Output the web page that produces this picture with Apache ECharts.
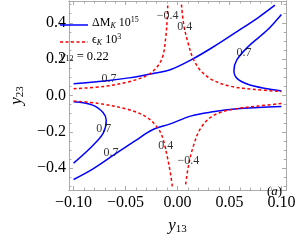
<!DOCTYPE html>
<html>
<head>
<meta charset="utf-8">
<script src="https://cdn.jsdelivr.net/npm/echarts@6/dist/echarts.min.js"></script>
<style>html,body{margin:0;padding:0;background:#fff}#c{width:298px;height:240px}</style>
</head>
<body>
<div id="c"></div>
<script>
// ---- tick values ----
const xMajorTicks = [-0.1, -0.05, 0, 0.05, 0.1];
const xMinorTicks = [-0.09,-0.08,-0.07,-0.06,-0.04,-0.03,-0.02,-0.01,0.01,0.02,0.03,0.04,0.06,0.07,0.08,0.09];
const yMajorTicks = [-0.4, -0.2, 0, 0.2, 0.4];
const yMinorTicks = [-0.5,-0.45,-0.35,-0.3,-0.25,-0.15,-0.1,-0.05,0.05,0.1,0.15,0.25,0.3,0.35,0.45,0.5];

// ---- Delta M_K 10^15 = 0.7 contours (blue) ----
const dmUpper = [[-0.1,0.064],[-0.07,0.080],[-0.0467,0.097],[-0.0245,0.120],[-0.007,0.142],[0.0134,0.197],[0.0339,0.2655],[0.0572,0.3515],[0.0777,0.429],[0.0937,0.497]];
const dmRight = [[0.1,0.446],[0.0864,0.360],[0.0689,0.274],[0.0572,0.197],[0.0543,0.137],[0.0572,0.094],[0.0689,0.059],[0.0864,0.037],[0.1,0.025]];
const dmLeft  = [[-0.1,-0.035],[-0.0817,-0.053],[-0.0715,-0.095],[-0.0686,-0.138],[-0.0715,-0.207],[-0.0817,-0.276],[-0.1,-0.372]];
const dmLower = [[-0.1,-0.462],[-0.0817,-0.405],[-0.0613,-0.327],[-0.0409,-0.250],[-0.0245,-0.190],[-0.007,-0.156],[0.0134,-0.112],[0.0339,-0.090],[0.0572,-0.073],[0.0777,-0.066],[0.1,-0.061]];

// ---- epsilon_K 10^3 = +-0.4 contours (red dashed) ----
const epsUpperLeft  = [[-0.1,0.037],[-0.07,0.0505],[-0.0467,0.076],[-0.0292,0.111],[-0.0201,0.154],[-0.0143,0.214],[-0.0114,0.317],[-0.0099,0.420],[-0.0094,0.5]];
const epsUpperRight = [[0.0038,0.5],[0.0061,0.386],[0.0105,0.282],[0.0149,0.205],[0.0222,0.137],[0.0339,0.085],[0.0514,0.0505],[0.0747,0.0335],[0.1,0.0216]];
const epsLowerLeft  = [[-0.1,-0.030],[-0.0759,-0.044],[-0.0467,-0.078],[-0.0292,-0.121],[-0.0187,-0.181],[-0.0143,-0.233],[-0.0099,-0.336],[-0.007,-0.422],[-0.005,-0.5]];
const epsLowerRight = [[0.1,-0.044],[0.0777,-0.058],[0.0514,-0.078],[0.0339,-0.112],[0.0222,-0.181],[0.0149,-0.285],[0.0105,-0.388],[0.0076,-0.5]];

// ---- contour labels ----
const contourLabels = [
  {text:'\u22120.4', x:-0.0096, y:0.44},
  {text:'0.4', x:0.007, y:0.379},
  {text:'0.7', x:0.064, y:0.235},
  {text:'0.7', x:-0.066, y:0.09},
  {text:'0.7', x:-0.071, y:-0.183},
  {text:'0.7', x:-0.064, y:-0.317},
  {text:'0.4', x:-0.0114, y:-0.276},
  {text:'\u22120.4', x:0.0105, y:-0.358}
];

const FONT = 'Liberation Serif';
const FRAME = '#aaaaaa';
const TICKFS = 16;
const BLUE = '#0000ff', RED = '#ff0000';
const chart = echarts.init(document.getElementById('c'), null, {renderer:'canvas'});

function fmt(v, d){ const s = Math.abs(v).toFixed(d); return (v < -1e-9 ? '\u2212' : '') + s; }

function xAx(pos, custom, len, labels, extra){
  return Object.assign({
    type:'value', position:pos, min:-0.1045, max:0.1045,
    axisLine:{show:true, onZero:false, lineStyle:{color:FRAME, width:1}},
    axisTick:{show:true, inside:true, length:len, customValues:custom, lineStyle:{color:FRAME}},
    axisLabel:{show:labels, customValues:custom, margin:5, fontFamily:FONT, fontSize:TICKFS, color:'#000', formatter:v=>fmt(v,2)},
    splitLine:{show:false}
  }, extra||{});
}
function yAx(pos, custom, len, labels, extra){
  return Object.assign({
    type:'value', position:pos, min:-0.52, max:0.52,
    axisLine:{show:true, onZero:false, lineStyle:{color:FRAME, width:1}},
    axisTick:{show:true, inside:true, length:len, customValues:custom, lineStyle:{color:FRAME}},
    axisLabel:{show:labels, customValues:custom, margin:3, fontFamily:FONT, fontSize:TICKFS, color:'#000', formatter:v=>fmt(v,1)},
    splitLine:{show:false}
  }, extra||{});
}

const blue = {color:BLUE, width:1.5, type:'solid'};
const red = {color:RED, width:1.5, type:[3,2.5]};
function line(name, data, style){
  return {type:'line', name:name, data:data, xAxisIndex:0, yAxisIndex:0, symbol:'none', smooth:0.35, lineStyle:style, itemStyle:{color:style.color}, silent:true, z:3};
}

const legendRich = {
  n:{fontFamily:FONT, fontSize:12, fill:'#000'},
  sub:{fontFamily:FONT, fontSize:8, fontStyle:'italic', fill:'#000', padding:[6,0,0,0]},
  sup:{fontFamily:FONT, fontSize:8, fill:'#000', padding:[0,0,6,0]}
};

const option = {
  animation:false,
  grid:{left:49, right:10, top:1, bottom:38},
  xAxis:[
    xAx('bottom', xMajorTicks, 4, true, {
      name:'{y|y}{s|13}', nameLocation:'middle', nameGap:26,
      nameTextStyle:{rich:{y:{fontFamily:FONT, fontStyle:'italic', fontSize:17, color:'#000'}, s:{fontFamily:FONT, fontSize:11, color:'#000', padding:[8,0,0,0]}}}
    }),
    xAx('top', xMajorTicks, 4, false),
    xAx('bottom', xMinorTicks, 2.5, false),
    xAx('top', xMinorTicks, 2.5, false)
  ],
  yAxis:[
    yAx('left', yMajorTicks, 4, true, {
      name:'{y|y}{s|23}', nameLocation:'middle', nameGap:34, nameRotate:90,
      nameTextStyle:{rich:{y:{fontFamily:FONT, fontStyle:'italic', fontSize:17, color:'#000'}, s:{fontFamily:FONT, fontSize:11, color:'#000', padding:[8,0,0,0]}}}
    }),
    yAx('right', yMajorTicks, 4, false),
    yAx('left', yMinorTicks, 2.5, false),
    yAx('right', yMinorTicks, 2.5, false)
  ],
  graphic:[
    {type:'line', shape:{x1:60, y1:25, x2:88, y2:25}, style:{stroke:BLUE, lineWidth:1.5}, z:10},
    {type:'line', shape:{x1:60, y1:42, x2:88, y2:42}, style:{stroke:RED, lineWidth:1.5, lineDash:[3,2.5]}, z:10},
    {type:'text', left:92, top:16, z:10, style:{text:'{n|\u0394M}{sub|K}{n| 10}{sup|15}', rich:legendRich}},
    {type:'text', left:92, top:33, z:10, style:{text:'{n|\u03f5}{sub|K}{n| 10}{sup|3}', rich:legendRich}},
    {type:'text', left:60, top:50, z:10, style:{
      text:'{y|y}{s|12}{n| = 0.22}',
      rich:{y:{fontFamily:FONT, fontStyle:'italic', fontSize:12.5, fill:'#000'}, s:{fontFamily:FONT, fontSize:8, fill:'#000', padding:[5,0,0,0]}, n:{fontFamily:FONT, fontSize:12.5, fill:'#000'}}
    }},
    {type:'text', left:267, top:185, z:10, style:{
      text:'{p|(}{a|a}{p|)}',
      rich:{p:{fontFamily:FONT, fontSize:13, fill:'#000'}, a:{fontFamily:FONT, fontSize:13, fontStyle:'italic', fill:'#000'}}
    }}
  ],
  series:[
    line('dm', dmUpper, blue),
    line('dm', dmRight, blue),
    line('dm', dmLeft, blue),
    line('dm', dmLower, blue),
    line('eps', epsUpperLeft, red),
    line('eps', epsUpperRight, red),
    line('eps', epsLowerLeft, red),
    line('eps', epsLowerRight, red),
    {type:'scatter', xAxisIndex:0, yAxisIndex:0, symbolSize:0, silent:true, z:5,
      data:contourLabels.map(d=>({value:[d.x,d.y], name:d.text})),
      label:{show:true, position:'inside', formatter:p=>p.name, fontFamily:FONT, fontSize:12, color:'#000'}}
  ]
};
chart.setOption(option);
</script>
</body>
</html>
